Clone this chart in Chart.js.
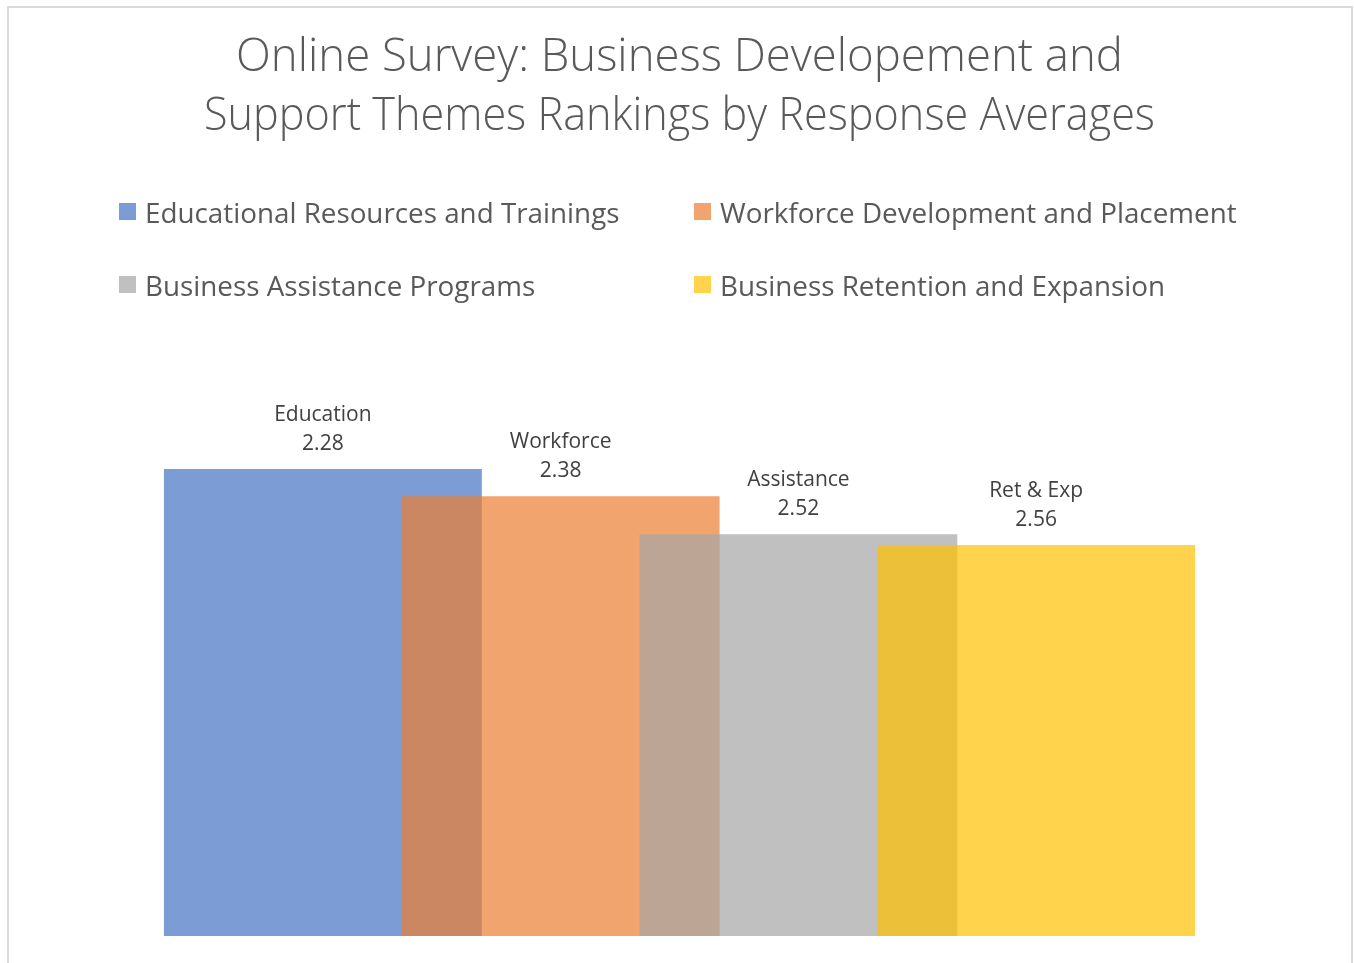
<!DOCTYPE html>
<html>
<head>
<meta charset="utf-8">
<script src="https://cdn.jsdelivr.net/npm/chart.js@4/dist/chart.umd.min.js"></script>
<style>
  html, body { margin: 0; padding: 0; background: #fff; overflow: hidden; }
  #frame {
    position: absolute; left: 7px; top: 6px; width: 1342px; height: 980px;
    border: 2px solid #d9d9d9;
  }
  #wrap { position: absolute; left: 0; top: 0; width: 1354px; height: 963px; }
  #legend {
    position: absolute; left: 119px; top: 195px;
    display: grid; grid-template-columns: 575px 600px; row-gap: 40px;
    font-family: "Open Sans", sans-serif; font-size: 27.8px; color: #595959;
  }
  .item { display: flex; align-items: center; height: 33px; white-space: nowrap; }
  .box { width: 17px; height: 17px; margin-right: 9px; }
</style>
</head>
<body>
<div id="frame"></div>
<div id="wrap"><canvas id="chart" width="1354" height="963"></canvas></div>
<div id="legend"></div>
<script>
const categories = ['Education', 'Workforce', 'Assistance', 'Ret & Exp'];
const seriesNames = [
    'Educational Resources and Trainings',
    'Workforce Development and Placement',
    'Business Assistance Programs',
    'Business Retention and Expansion'
];
const responseAverages = [2.28, 2.38, 2.52, 2.56];
const seriesColors = [
    'rgba(68, 114, 196, 0.7)',
    'rgba(237, 125, 49, 0.7)',
    'rgba(165, 165, 165, 0.7)',
    'rgba(255, 192, 0, 0.7)'
];
const axisMin = 2;
const axisMax = 4;

// each series only has a value in its own slot, bars grow up from the reversed axis max
const datasets = seriesNames.map((name, i) => ({
    label: name,
    data: categories.map((c, j) => j === i ? [axisMax, responseAverages[i]] : null),
    backgroundColor: seriesColors[i],
    borderWidth: 0,
    order: seriesNames.length - 1 - i,
    clip: false
}));

const barLabels = {
    id: 'barLabels',
    afterDatasetsDraw(chart) {
        const ctx = chart.ctx;
        ctx.save();
        ctx.fillStyle = '#404040';
        ctx.font = '21px "Open Sans", sans-serif';
        ctx.textAlign = 'center';
        ctx.textBaseline = 'middle';
        chart.data.datasets.forEach((ds, i) => {
            const el = chart.getDatasetMeta(i).data[i];
            if (!el) return;
            const top = Math.min(el.y, el.base);
            ctx.fillText(categories[i], el.x, top - 54);
            ctx.fillText(responseAverages[i].toFixed(2), el.x, top - 25);
        });
        ctx.restore();
    }
};

const chart = new Chart(document.getElementById('chart').getContext('2d'), {
    type: 'bar',
    data: { labels: categories, datasets: datasets },
    options: {
        responsive: false,
        animation: false,
        layout: { padding: { left: 204, right: 199, top: 0, bottom: 27 } },
        datasets: { bar: { skipNull: true, categoryPercentage: 1, barPercentage: 1.337 } },
        plugins: {
            legend: { display: false },
            tooltip: { enabled: false },
            title: {
                display: true,
                text: ['Online Survey: Business Developement and', 'Support Themes Rankings by Response Averages'],
                color: '#595959',
                font: { family: '"Open Sans", sans-serif', size: 45.5, weight: '300', lineHeight: '59px' },
                padding: { top: 28.5, bottom: 246.5 }
            }
        },
        scales: {
            x: { display: false, offset: true },
            y: { display: false, reverse: true, min: axisMin, max: axisMax }
        }
    },
    plugins: [barLabels]
});

const legendEl = document.getElementById('legend');
chart.data.datasets.forEach(ds => {
    const item = document.createElement('div');
    item.className = 'item';
    item.innerHTML = `<span class="box" style="background:${ds.backgroundColor}"></span><span>${ds.label}</span>`;
    legendEl.appendChild(item);
});
</script>
</body>
</html>
